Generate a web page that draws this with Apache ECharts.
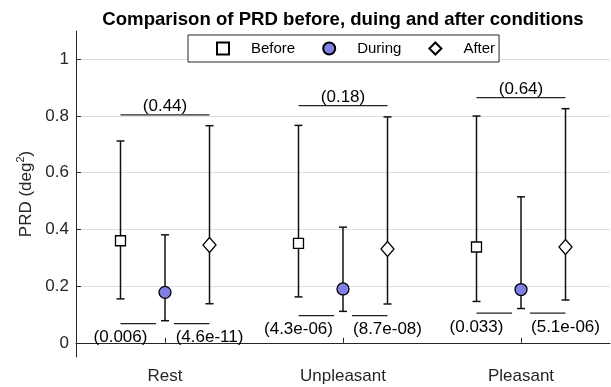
<!DOCTYPE html>
<html><head><meta charset="utf-8">
<script src="https://cdn.jsdelivr.net/npm/echarts@6/dist/echarts.min.js"></script>
<style>html,body{margin:0;padding:0;background:#fff}#c{width:611px;height:387px}</style>
</head><body><div id="c"></div>
<script>
// ---- data ----
const categories = ['Rest', 'Unpleasant', 'Pleasant'];
const conditions = ['Before', 'During', 'After'];
const beforeMean = [0.360, 0.351, 0.338];
const beforeLow  = [0.155, 0.162, 0.146];
const beforeHigh = [0.712, 0.767, 0.800];
const duringMean = [0.178, 0.190, 0.188];
const duringLow  = [0.078, 0.111, 0.121];
const duringHigh = [0.381, 0.408, 0.515];
const afterMean  = [0.345, 0.331, 0.338];
const afterLow   = [0.138, 0.137, 0.151];
const afterHigh  = [0.766, 0.797, 0.826];
const topPLabels = ['(0.44)', '(0.18)', '(0.64)'];
const topBracketY = [0.804, 0.837, 0.865];
const lowPLabelsBD = ['(0.006)', '(4.3e-06)', '(0.033)'];
const lowPLabelsDA = ['(4.6e-11)', '(8.7e-08)', '(5.1e-06)'];
const lowBracketY = [0.068, 0.096, 0.105];
const yTickValues = [0, 0.2, 0.4, 0.6, 0.8, 1];

// ---- layout helpers ----
const FONT = 'Liberation Sans, Arial, Helvetica, sans-serif';
const AX = '#262626';
const offsets = [-0.25, 0, 0.25];
const xPos = (g, c) => g + 1 + offsets[c];

const means = [beforeMean, duringMean, afterMean];
const lows = [beforeLow, duringLow, afterLow];
const highs = [beforeHigh, duringHigh, afterHigh];

const errData = [];
for (let c = 0; c < 3; c++) for (let g = 0; g < 3; g++) errData.push([xPos(g, c), lows[c][g], highs[c][g]]);

const bracketData = [];
const textData = [];
for (let g = 0; g < 3; g++) {
  bracketData.push([xPos(g, 0), xPos(g, 2), topBracketY[g]]);
  bracketData.push([xPos(g, 0), xPos(g, 1) - 0.05, lowBracketY[g]]);
  bracketData.push([xPos(g, 1) + 0.05, xPos(g, 2), lowBracketY[g]]);
  textData.push({ value: [xPos(g, 1), topBracketY[g] + 0.03], t: topPLabels[g] });
  textData.push({ value: [xPos(g, 0), lowBracketY[g] - 0.05], t: lowPLabelsBD[g] });
  textData.push({ value: [xPos(g, 2), lowBracketY[g] - 0.05], t: lowPLabelsDA[g] });
}

const chart = echarts.init(document.getElementById('c'), null, { renderer: 'canvas' });
const symbols = ['rect', 'circle', 'diamond'];
const sizes = [10, 12, [13, 15]];
const fills = ['#ffffff', '#7f7fe6', '#ffffff'];

const scatterSeries = conditions.map((name, c) => ({
  name, type: 'scatter', xAxisIndex: 1, z: 5,
  symbol: symbols[c], symbolSize: sizes[c],
  itemStyle: { color: fills[c], borderColor: '#000', borderWidth: 1.3, opacity: 1 },
  emphasis: { disabled: true },
  data: categories.map((_, g) => [xPos(g, c), means[c][g]])
}));

chart.setOption({
  animation: false,
  backgroundColor: '#fff',
  textStyle: { fontFamily: FONT },
  title: {
    text: 'Comparison of PRD before, duing and after conditions',
    left: 338, textAlign: 'center', top: 5,
    textStyle: { fontFamily: FONT, fontSize: 18.6, fontWeight: 'bold', color: '#000' }
  },
  legend: {
    left: 188, top: 35,
    orient: 'horizontal',
    backgroundColor: '#fff', borderColor: AX, borderWidth: 1,
    padding: [6, 4, 6, 28],
    itemWidth: 12, itemHeight: 12, itemGap: 27,
    textStyle: { fontFamily: FONT, fontSize: 15, color: '#000', padding: [0, 0, 0, 17] },
    data: conditions,
    selectedMode: false
  },
  grid: { left: 76, right: 1, top: 31, bottom: 30, containLabel: false },
  xAxis: [
    {
      type: 'category', data: categories, boundaryGap: true,
      axisLine: { lineStyle: { color: AX, width: 1 } },
      axisTick: { show: true, inside: true, length: 5, alignWithLabel: true, lineStyle: { color: AX } },
      axisLabel: { fontFamily: FONT, fontSize: 17, color: AX, margin: 11 },
      splitLine: { show: false }
    },
    { type: 'value', min: 0.5, max: 3.5, show: false }
  ],
  yAxis: {
    type: 'value', min: -0.05, max: 1.1,
    name: '{n|PRD (deg}{s|2}{n|)}',
    nameLocation: 'middle', nameRotate: 90, nameGap: 40,
    nameTextStyle: {
      rich: {
        n: { fontFamily: FONT, fontSize: 17, color: AX, lineHeight: 20 },
        s: { fontFamily: FONT, fontSize: 11, color: AX, lineHeight: 12, verticalAlign: 'top' }
      }
    },
    axisLine: { show: true, lineStyle: { color: AX, width: 1 } },
    axisTick: { show: true, inside: true, length: 5, lineStyle: { color: AX }, customValues: yTickValues },
    axisLabel: { fontFamily: FONT, fontSize: 17, color: AX, margin: 7, customValues: yTickValues,
      formatter: v => String(Math.round(v * 10) / 10) },
    splitLine: { show: true, lineStyle: { color: '#dfdfdf', width: 1 } }
  },
  series: [
    {
      type: 'custom', name: 'errorbars', xAxisIndex: 1, z: 2, silent: true,
      data: errData,
      renderItem: (params, api) => {
        const x = api.value(0);
        const p1 = api.coord([x, api.value(1)]);
        const p2 = api.coord([x, api.value(2)]);
        const hw = 4;
        const st = { stroke: '#111', lineWidth: 1.5 };
        return { type: 'group', children: [
          { type: 'line', shape: { x1: p1[0], y1: p1[1], x2: p2[0], y2: p2[1] }, style: st },
          { type: 'line', shape: { x1: p1[0] - hw, y1: p1[1], x2: p1[0] + hw, y2: p1[1] }, style: st },
          { type: 'line', shape: { x1: p2[0] - hw, y1: p2[1], x2: p2[0] + hw, y2: p2[1] }, style: st }
        ]};
      }
    },
    {
      type: 'custom', name: 'brackets', xAxisIndex: 1, z: 2, silent: true,
      data: bracketData,
      renderItem: (params, api) => {
        const a = api.coord([api.value(0), api.value(2)]);
        const b = api.coord([api.value(1), api.value(2)]);
        return { type: 'line', shape: { x1: a[0], y1: a[1], x2: b[0], y2: b[1] }, style: { stroke: '#222', lineWidth: 1.2 } };
      }
    },
    {
      type: 'custom', name: 'pvalues', xAxisIndex: 1, z: 3, silent: true,
      data: textData.map(d => d.value),
      renderItem: (params, api) => {
        const p = api.coord([api.value(0), api.value(1)]);
        return { type: 'text', x: p[0], y: p[1], style: {
          text: textData[params.dataIndex].t, fill: '#000', fontSize: 17, fontFamily: FONT,
          align: 'center', verticalAlign: 'middle' } };
      }
    },
    ...scatterSeries
  ]
});
</script></body></html>
